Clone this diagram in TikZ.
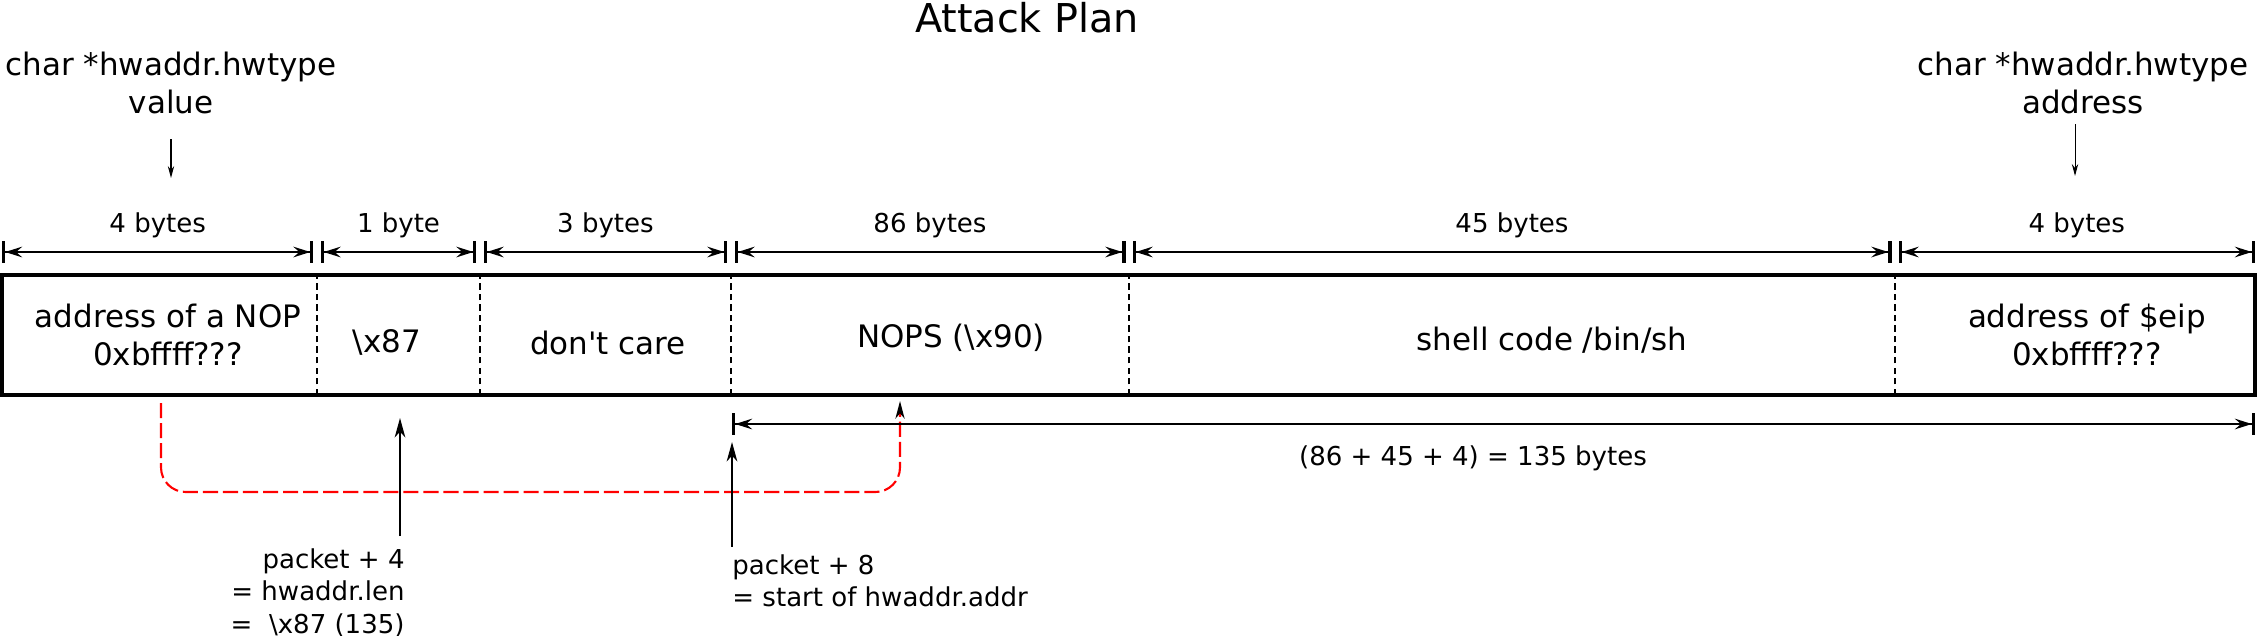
\documentclass[tikz,border=0pt]{standalone}
\usepackage{fontspec}
\setmainfont{DejaVu Sans}
\usetikzlibrary{arrows.meta}
\definecolor{JumpRed}{RGB}{255,0,0}

\begin{document}
\begin{tikzpicture}[
    x=0.01cm,y=0.01cm,
    big/.style={font=\fontsize{8.8}{10.8}\selectfont},
    small/.style={font=\fontsize{7.4}{9.3}\selectfont},
    frame/.style={line width=1.2pt},
    divider/.style={line width=0.5pt,dash pattern=on 1.8pt off 1.2pt},
    dim/.style={line width=0.75pt,
      {Bar[width=6pt,line width=0.9pt]Stealth[length=4.8pt,width=3pt,inset=1.7pt]}-{Stealth[length=4.8pt,width=3pt,inset=1.7pt]Bar[width=6pt,line width=0.9pt]}},
    ptr/.style={line width=0.3pt,-{Stealth[length=3.4pt,width=1.8pt]}},
    up/.style={line width=0.6pt,-{Stealth[length=5.5pt,width=3pt,inset=1.6pt]}},
    jump/.style={JumpRed,line width=0.6pt,dash pattern=on 4.3pt off 1.4pt,
      rounded corners=7pt,-{Stealth[black,length=5pt,width=2.6pt,inset=1.5pt]}}
  ]
  \useasboundingbox (0,0) rectangle (2258,635);

  % title and pointer labels
  \node[font=\fontsize{11.3}{13}\selectfont] (title) at (1027,617) {Attack Plan};
  \node[big,align=center] (hwval) at (171,552) {char *hwaddr.hwtype\\value};
  \node[big,align=center] (hwadr) at (2083,552) {char *hwaddr.hwtype\\address};
  \coordinate (hwvaltip) at (171,457);
  \coordinate (hwadrtip) at (2075,459);
  \draw[ptr,shorten <=3.7pt] (hwval.south) -- (hwvaltip);
  \draw[ptr,shorten <=-0.6pt] (hwadr.south -| hwadrtip) -- (hwadrtip);

  % byte sizes
  \coordinate (b0) at (2,383);
  \coordinate (b1) at (317,383);
  \coordinate (b2) at (480,383);
  \coordinate (b3) at (731,383);
  \coordinate (b4) at (1129,383);
  \coordinate (b5) at (1895,383);
  \coordinate (b6) at (2255,383);
  \draw[dim] (b0) -- ([xshift=-1pt]b1) node[midway,above=0.2pt,small] {4 bytes};
  \draw[dim] ([xshift=1pt]b1) -- ([xshift=-1pt]b2) node[midway,above=0.2pt,small] {1 byte};
  \draw[dim] ([xshift=1pt]b2) -- ([xshift=-1pt]b3) node[midway,above=0.2pt,small] {3 bytes};
  \draw[dim] ([xshift=1pt]b3) -- ([xshift=-1pt]b4) node[midway,above=0.2pt,small] {86 bytes};
  \draw[dim] ([xshift=1pt]b4) -- ([xshift=-1pt]b5) node[midway,above=0.2pt,small] {45 bytes};
  \draw[dim] ([xshift=1pt]b5) -- (b6) node[midway,above=0.2pt,small] {4 bytes};

  % packet
  \draw[frame] (2,240) rectangle (2255,360);
  \foreach \bx in {317,480,731,1129,1895}
    \draw[divider] (\bx,240) -- (\bx,360);
  \node[big,align=center] (nop) at (168,300) {address of a NOP\\0xbffff???};
  \node[big] (len) at (387,293) {\textbackslash x87};
  \node[big] (pad) at (608,292) {don\textquotesingle t care};
  \node[big] (sled) at (951,297) {NOPS (\textbackslash x90)};
  \node[big] (shell) at (1552,295) {shell code /bin/sh};
  \node[big,align=center] (eip) at (2087,300) {address of \$eip\\0xbffff???};

  % jump into the NOP sled
  \coordinate (jmpsrc) at (161,232);
  \coordinate (jmpdst) at (900,234);
  \draw[jump] (jmpsrc) -- ++(0,-89) -| (jmpdst);

  % offsets into the packet
  \coordinate (pk4tip) at (400,217);
  \coordinate (pk8tip) at (732,193);
  \node[small,align=right,anchor=north east] (pk4) at (417,99)
    {packet + 4\\= hwaddr.len\\= \ \textbackslash x87 (135)};
  \node[small,align=left,anchor=north west] (pk8) at (720,93)
    {packet + 8\\= start of hwaddr.addr};
  \draw[up] (pk4.north -| pk4tip) -- (pk4tip);
  \draw[up,shorten <=-1.4pt] (pk8.north -| pk8tip) -- (pk8tip);

  % length of hwaddr.addr
  \coordinate (c0) at (732,211);
  \coordinate (c1) at (2255,211);
  \draw[dim] (c0) -- (c1);
  \node[small] (total) at (1473,177) {(86 + 45 + 4) = 135 bytes};
\end{tikzpicture}
\end{document}
